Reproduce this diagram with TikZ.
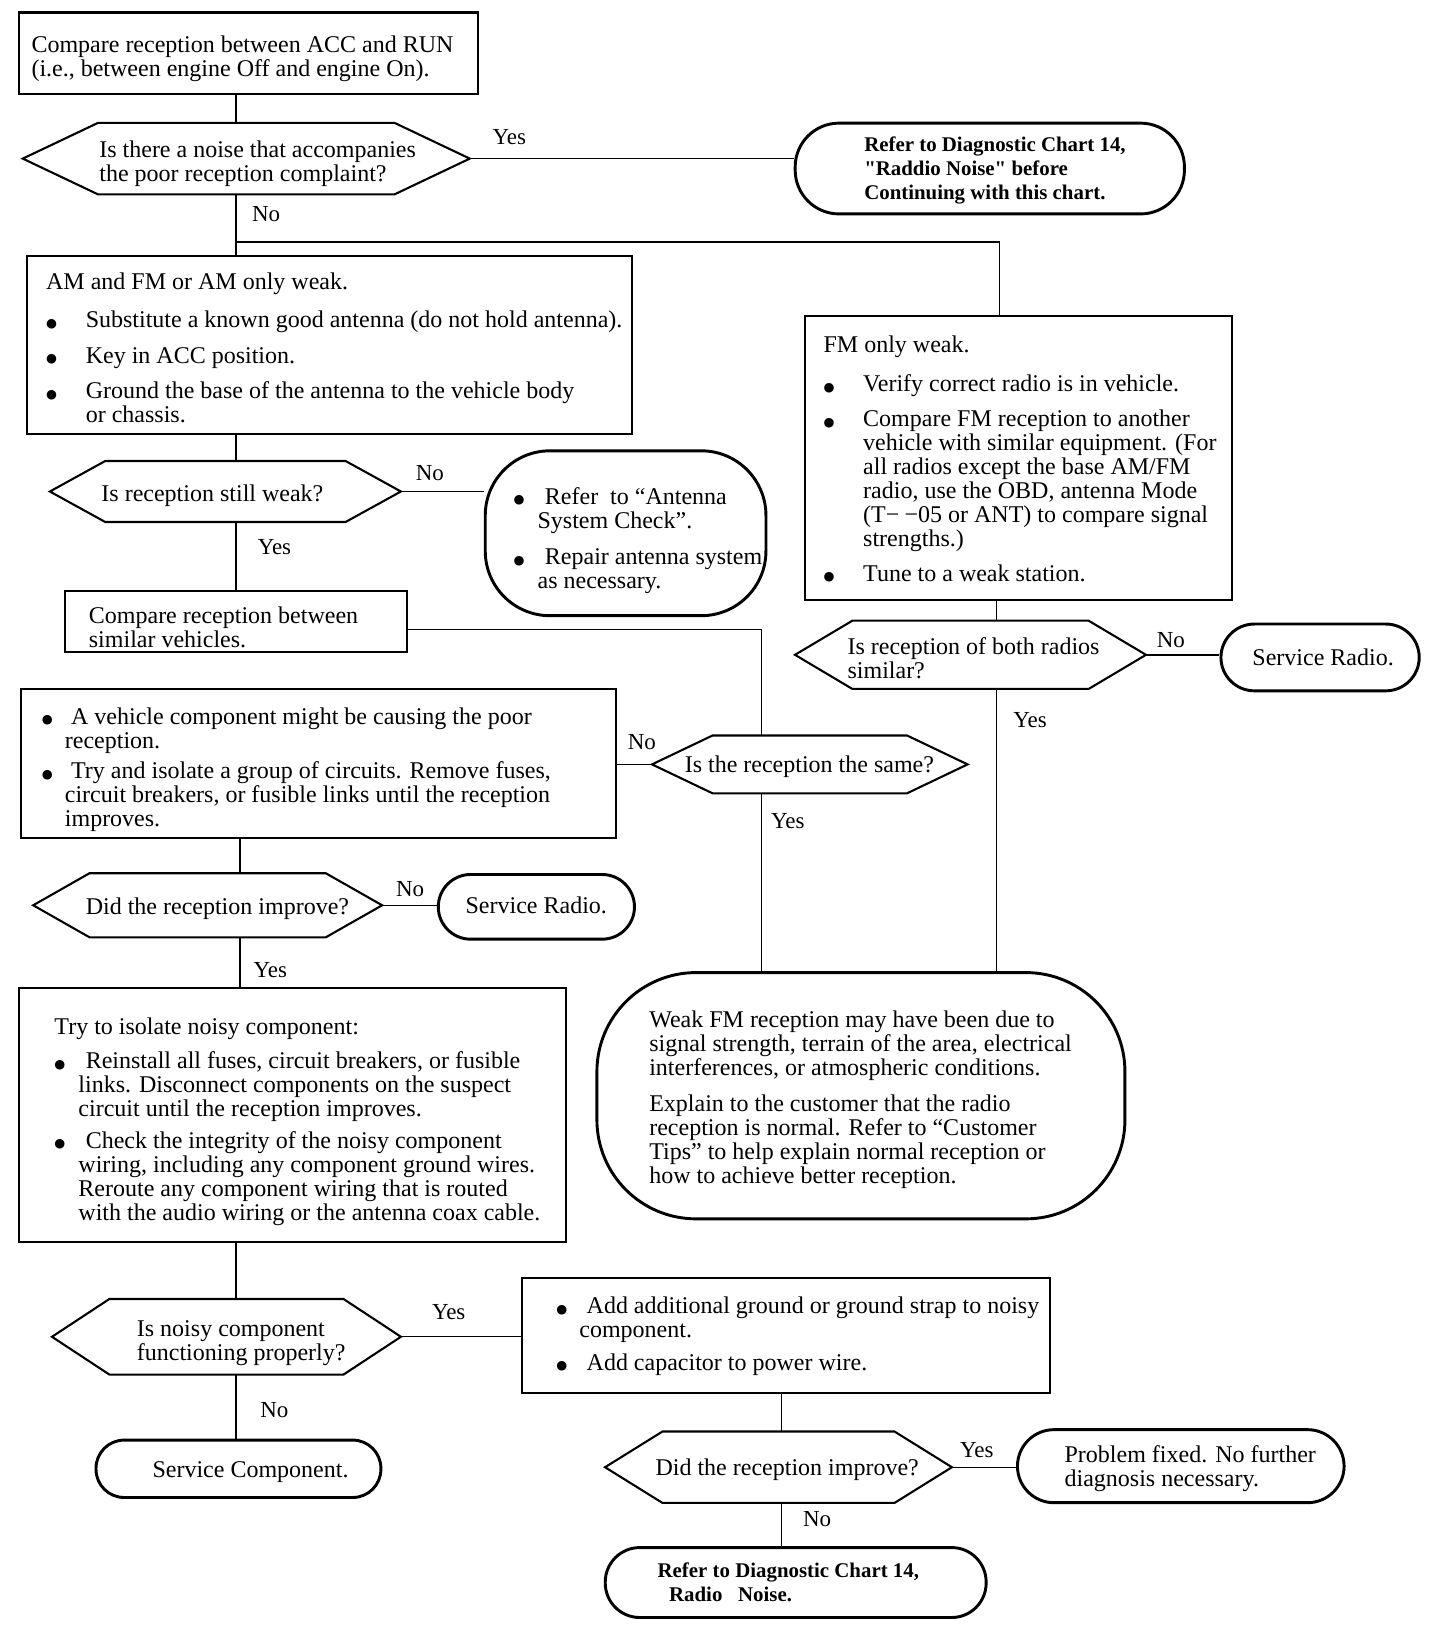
\documentclass[tikz,border=0pt]{standalone}
\usepackage{fontspec}
\setmainfont{Liberation Serif}[Ligatures=TeXOff]
\newfontfamily\symf{DejaVu Sans}
\usetikzlibrary{fit}
\newcommand\bulg{\raisebox{0.02em}{\symf\fontsize{12}{12}\selectfont ●}}
\newcommand\bl[1]{\makebox[#1pt][l]{\bulg}}
\newcommand\hexa[6]{%
 \node[fit={(#2,#3) (#4,#5)}, inner sep=0pt] (#1) {};
 \draw[hexline] (#1.west) -- ([xshift=#6pt]#1.north west) -- ([xshift=-#6pt]#1.north east) -- (#1.east) -- ([xshift=-#6pt]#1.south east) -- ([xshift=#6pt]#1.south west) -- cycle;}
\tikzset{
 box/.style={draw, line width=2pt, inner sep=0pt},
 term/.style={draw, line width=2.8pt, inner sep=0pt},
 hexline/.style={line width=2pt, line join=miter},
 conn/.style={line width=1.3pt},
 txt/.style={inner sep=0pt, align=left, anchor=north west, font=\fontsize{23}{23}\selectfont},
 btxt/.style={txt, font=\fontsize{20}{23}\selectfont\bfseries},
 lbl/.style={inner sep=0pt, font=\fontsize{22}{23}\selectfont},
}
\begin{document}
\begin{tikzpicture}[x=1pt,y=-1pt]
\fill[white] (0,0) rectangle (1380,1562);
\useasboundingbox (0,0) rectangle (1380,1562);

% spine coordinates
\coordinate (sa) at (226,0);
\coordinate (sb) at (230,0);
\coordinate (gx) at (730,603);
\coordinate (kx) at (955,0);
\coordinate (tx) at (749,0);
\coordinate (j1) at (226,232);
\coordinate (j2) at (958,232);

% shapes
\node[box, fit={(18,12) (458,90)}] (A) {};
\hexa{B}{22}{118}{450}{186}{72}
\node[term, rounded corners=42pt, fit={(762,118) (1135,205)}] (C) {};
\node[box, fit={(26,245) (606,416)}] (D) {};
\hexa{E}{48}{442}{384}{500}{53}
\node[term, rounded corners=62pt, fit={(465,432) (734,590)}] (F) {};
\node[box, fit={(62,566) (390,625)}] (G) {};
\hexa{H}{625}{705}{927}{760}{58}
\node[box, fit={(20,660) (590,803)}] (I) {};
\node[box, fit={(771,303) (1181,575)}] (J) {};
\hexa{K}{762}{595}{1098}{660}{55}
\node[term, rounded corners=32pt, fit={(1170,598) (1360,662)}] (L) {};
\node[term, rounded corners=95pt, fit={(572,932) (1078,1168)}] (M) {};
\hexa{N}{32}{837}{366}{898}{54}
\node[term, rounded corners=31pt, fit={(420,838) (608,900)}] (O) {};
\node[box, fit={(18,947) (542,1190)}] (P) {};
\hexa{Q}{50}{1245}{384}{1317}{55}
\node[box, fit={(500,1225) (1006,1335)}] (R) {};
\node[term, rounded corners=27pt, fit={(92,1380) (365,1435)}] (S) {};
\hexa{T}{580}{1372}{912}{1440}{55}
\node[term, rounded corners=35pt, fit={(975,1370) (1288,1440)}] (U) {};
\node[term, rounded corners=33pt, fit={(580,1483) (945,1550)}] (V) {};

% texts
\node[txt] (At) at (30,34) {Compare reception between ACC and RUN\\(i.e., between engine Off and engine On).};
\node[txt] (Bt) at (95,135) {Is there a noise that accompanies\\the poor reception complaint?};
\node[btxt] (Ct) at (828,131) {Refer to Diagnostic Chart 14,\\"Raddio Noise" before\\Continuing with this chart.};
\node[txt] (Dt) at (44,261) {AM and FM or AM only weak.\\[14pt]
\bl{38}Substitute a known good antenna (do not hold antenna).\\[11pt]
\bl{38}Key in ACC position.\\[11pt]
\bl{38}Ground the base of the antenna to the vehicle body\\
\hspace*{38pt}or chassis.};
\node[txt] (Et) at (97,464) {Is reception still weak?};
\node[txt] (Ft) at (492,467) {\bl{30}Refer\ \ to “Antenna\\
\hspace*{23pt}System Check”.\\[12pt]
\bl{30}Repair antenna system\\
\hspace*{23pt}as necessary.};
\node[txt] (Gt) at (85,581) {Compare reception between\\similar vehicles.};
\node[txt] (It) at (40,678) {\bl{28}A vehicle component might be causing the poor\\
\hspace*{22pt}reception.\\[6pt]
\bl{28}Try and isolate a group of circuits. Remove fuses,\\
\hspace*{22pt}circuit breakers, or fusible links until the reception\\
\hspace*{22pt}improves.};
\node[txt] (Ht) at (656,724) {Is the reception the same?};
\node[txt] (Jt) at (789,322) {FM only weak.\\[14pt]
\bl{38}Verify correct radio is in vehicle.\\[11pt]
\bl{38}Compare FM reception to another\\
\hspace*{38pt}vehicle with similar equipment. (For\\
\hspace*{38pt}all radios except the base AM/FM\\
\hspace*{38pt}radio, use the OBD, antenna Mode\\
\hspace*{38pt}(T−\kern5pt−05 or ANT) to compare signal\\
\hspace*{38pt}strengths.)\\[10pt]
\bl{38}Tune to a weak station.};
\node[txt] (Kt) at (812,611) {Is reception of both radios\\similar?};
\node[txt] (Lt) at (1200,622) {Service Radio.};
\node[txt] (Mt) at (622,968) {Weak FM reception may have been due to\\
signal strength, terrain of the area, electrical\\
interferences, or atmospheric conditions.\\[12pt]
Explain to the customer that the radio\\
reception is normal. Refer to “Customer\\
Tips” to help explain normal reception or\\
how to achieve better reception.};
\node[txt] (Nt) at (82,860) {Did the reception improve?};
\node[txt] (Ot) at (446,859) {Service Radio.};
\node[txt] (Pt) at (52,975) {Try to isolate noisy component:\\[10pt]
\bl{30}Reinstall all fuses, circuit breakers, or fusible\\
\hspace*{23pt}links. Disconnect components on the suspect\\
\hspace*{23pt}circuit until the reception improves.\\[7pt]
\bl{30}Check the integrity of the noisy component\\
\hspace*{23pt}wiring, including any component ground wires.\\
\hspace*{23pt}Reroute any component wiring that is routed\\
\hspace*{23pt}with the audio wiring or the antenna coax cable.};
\node[txt] (Qt) at (131,1265) {Is noisy component\\functioning properly?};
\node[txt] (Rt) at (533,1243) {\bl{29}Add additional ground or ground strap to noisy\\
\hspace*{22pt}component.\\[8pt]
\bl{29}Add capacitor to power wire.};
\node[txt] (St) at (146,1400) {Service Component.};
\node[txt] (Tt) at (628,1398) {Did the reception improve?};
\node[txt] (Ut) at (1020,1385) {Problem fixed. No further\\diagnosis necessary.};
\node[btxt] (Vt) at (630,1497) {Refer to Diagnostic Chart 14,\\\hspace*{11pt}Radio\ \ \ Noise.};

% labels
\node[lbl] (l1) at (488,131) {Yes};
\node[lbl] (l2) at (255,205) {No};
\node[lbl] (l3) at (412,453) {No};
\node[lbl] (l4) at (263,524) {Yes};
\node[lbl] (l5) at (615,711) {No};
\node[lbl] (l6) at (755,787) {Yes};
\node[lbl] (l7) at (1122,613) {No};
\node[lbl] (l8) at (987,690) {Yes};
\node[lbl] (l9) at (393,852) {No};
\node[lbl] (l10) at (259,930) {Yes};
\node[lbl] (l11) at (430,1257) {Yes};
\node[lbl] (l12) at (263,1351) {No};
\node[lbl] (l13) at (936,1390) {Yes};
\node[lbl] (l14) at (783,1456) {No};

% connectors
\draw[conn] (A.south -| sa) -- (B.north -| sa);
\draw[conn] (B.east) -- (B.east -| C.west);
\draw[conn] (B.south -| sa) -- (D.north -| sa);
\draw[conn] (j1) -- (j2) -- (j2 |- J.north);
\draw[conn] (D.south -| sa) -- (E.north -| sa);
\draw[conn] (E.east) -- (E.east -| F.west);
\draw[conn] (E.south -| sa) -- (G.north -| sa);
\draw[conn] (gx -| G.east) -- (gx) -- (gx |- H.north);
\draw[conn] (H.west) -- (H.west -| I.east);
\draw[conn] (gx |- H.south) -- (gx |- M.north);
\draw[conn] (J.south -| kx) -- (K.north -| kx);
\draw[conn] (K.east) -- (K.east -| L.west);
\draw[conn] (K.south -| kx) -- (M.north -| kx);
\draw[conn] (I.south -| sb) -- (N.north -| sb);
\draw[conn] (N.east) -- (N.east -| O.west);
\draw[conn] (N.south -| sb) -- (P.north -| sb);
\draw[conn] (P.south -| sa) -- (Q.north -| sa);
\draw[conn] (Q.east) -- (Q.east -| R.west);
\draw[conn] (Q.south -| sa) -- (S.north -| sa);
\draw[conn] (R.south -| tx) -- (T.north -| tx);
\draw[conn] (T.east) -- (T.east -| U.west);
\draw[conn] (T.south -| tx) -- (V.north -| tx);
\end{tikzpicture}
\end{document}
